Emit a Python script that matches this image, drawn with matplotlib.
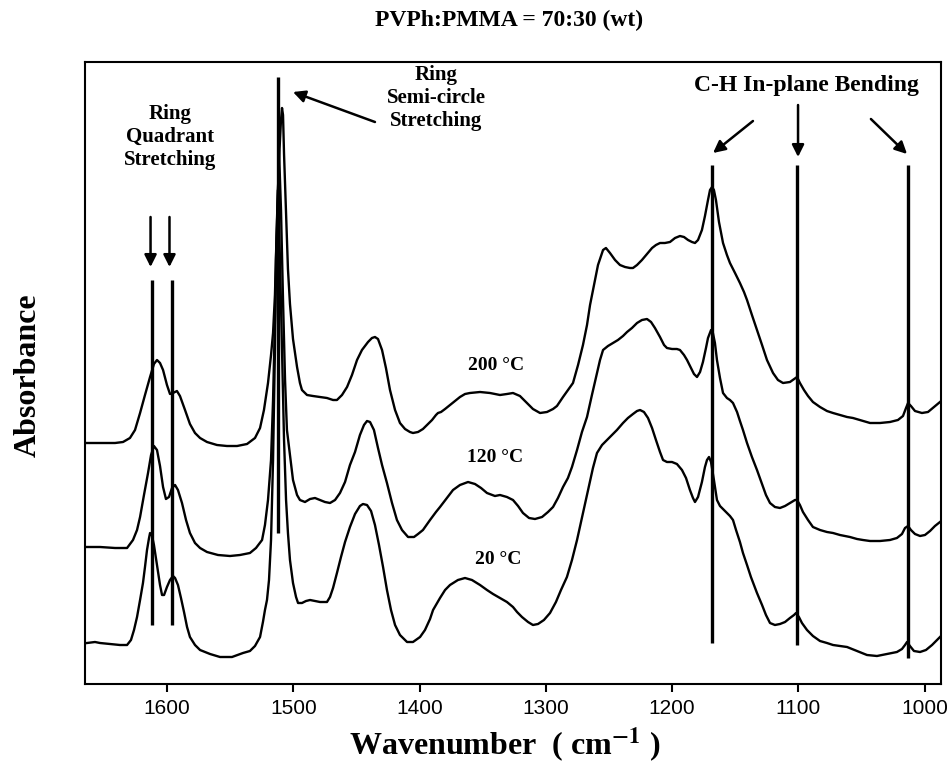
import matplotlib
matplotlib.use("Agg")
import matplotlib.pyplot as plt
import numpy as np

# ---------------- data (wavenumber in cm-1, absorbance in a.u., curves offset) -------------
wn_200 = [1663.3,1653.0,1641.1,1634.8,1629.3,1625.3,1621.3,1617.4,1613.4,1610.3,1607.9,1605.5,1603.1,1600.0,
          1597.6,1595.2,1592.1,1589.7,1585.7,1581.8,1577.8,1573.8,1568.3,1560.4,1552.5,1544.5,1536.6,1530.3,
          1526.3,1523.2,1520.0,1517.6,1516.0,1514.5,1512.9,1511.3,1509.7,1508.9,1508.1,1507.3,1505.7,1504.2,
          1502.6,1500.2,1497.0,1494.7,1493.1,1489.1,1484.4,1478.8,1473.3,1468.5,1465.4,1461.4,1457.4,1453.5,
          1449.5,1445.6,1440.8,1437.7,1435.3,1432.9,1429.7,1426.6,1423.4,1419.4,1415.5,1411.5,1407.6,1405.2,
          1401.2,1397.3,1394.1,1390.1,1387.0,1385.4,1383.0,1379.8,1375.9,1371.9,1368.0,1364.0,1360.1,1352.1,
          1344.2,1336.3,1330.8,1326.0,1320.5,1314.9,1310.2,1304.6,1299.1,1294.3,1291.2,1286.4,1282.5,1278.5,
          1274.5,1270.6,1267.4,1265.0,1261.1,1258.7,1254.7,1252.4,1249.2,1245.2,1241.3,1237.3,1233.4,1231.0,
          1227.8,1223.9,1219.9,1215.9,1212.8,1209.6,1205.7,1201.7,1197.7,1193.8,1190.6,1187.4,1184.3,1181.9,
          1179.5,1176.4,1174.0,1171.6,1170.0,1168.4,1166.9,1165.3,1162.9,1159.7,1156.6,1154.2,1150.2,1146.3,
          1143.1,1140.7,1136.8,1132.8,1128.8,1124.9,1120.1,1116.2,1112.2,1106.7,1101.1,1098.8,1095.6,1092.4,
          1088.5,1082.9,1077.4,1072.6,1067.1,1061.5,1056.8,1051.3,1043.3,1035.4,1027.5,1021.2,1017.2,1014.8,
          1013.2,1010.9,1007.7,1002.2,997.4,992.7,987.9]
abs_200 = [2.41,2.41,2.41,2.42,2.46,2.54,2.71,2.89,3.07,3.20,3.24,3.21,3.14,2.99,
           2.90,2.91,2.93,2.88,2.74,2.60,2.51,2.46,2.42,2.39,2.38,2.38,2.40,2.46,
           2.56,2.74,3.01,3.29,3.51,3.89,4.64,5.24,5.64,5.76,5.69,5.30,4.70,4.15,
           3.80,3.45,3.17,3.01,2.94,2.89,2.88,2.87,2.86,2.84,2.84,2.89,2.97,3.09,
           3.24,3.34,3.42,3.46,3.47,3.45,3.34,3.16,2.94,2.74,2.61,2.55,2.52,2.51,
           2.52,2.55,2.59,2.64,2.69,2.71,2.72,2.75,2.79,2.83,2.87,2.90,2.91,2.92,
           2.91,2.89,2.90,2.91,2.88,2.81,2.75,2.71,2.72,2.75,2.78,2.87,2.94,3.01,
           3.19,3.39,3.59,3.79,4.04,4.19,4.34,4.36,4.31,4.24,4.19,4.17,4.16,4.16,
           4.19,4.24,4.30,4.36,4.39,4.41,4.41,4.42,4.46,4.48,4.47,4.44,4.42,4.41,
           4.44,4.54,4.68,4.84,4.94,4.97,4.94,4.84,4.62,4.41,4.29,4.21,4.11,4.01,
           3.92,3.84,3.69,3.54,3.39,3.24,3.11,3.04,3.01,3.02,3.07,3.01,2.94,2.88,
           2.82,2.77,2.73,2.71,2.69,2.67,2.66,2.64,2.61,2.61,2.62,2.64,2.68,2.76,
           2.81,2.78,2.73,2.71,2.72,2.77,2.82]

wn_120 = [1663.3,1653.0,1641.1,1631.6,1626.9,1623.7,1621.3,1618.2,1615.0,1612.6,1610.3,1607.9,1605.5,1603.1,
          1600.8,1598.4,1596.0,1593.6,1591.3,1588.1,1584.9,1581.8,1577.8,1573.8,1568.3,1559.6,1550.1,1542.2,
          1534.3,1529.5,1524.7,1522.4,1520.0,1517.6,1516.0,1514.5,1512.9,1511.3,1509.7,1508.1,1506.5,1505.0,
          1502.6,1500.2,1497.0,1494.7,1490.7,1486.7,1482.8,1478.8,1474.9,1470.9,1466.9,1463.0,1459.0,1455.1,
          1451.1,1447.2,1444.0,1441.6,1439.2,1436.1,1432.9,1429.7,1425.8,1421.8,1417.9,1413.9,1409.1,1404.4,
          1401.2,1397.3,1391.7,1387.0,1383.8,1378.3,1373.5,1368.0,1361.6,1356.1,1351.3,1346.6,1340.3,1336.3,
          1330.8,1326.0,1322.0,1318.1,1313.3,1308.6,1303.0,1298.3,1294.3,1290.4,1286.4,1282.5,1279.3,1275.3,
          1271.4,1267.4,1263.5,1259.5,1257.1,1254.7,1250.8,1246.8,1242.9,1238.9,1235.7,1231.8,1227.8,1223.9,
          1219.9,1216.7,1213.6,1209.6,1206.4,1204.1,1200.1,1196.2,1193.8,1190.6,1188.2,1185.1,1182.7,1180.3,
          1177.9,1175.6,1173.2,1171.6,1169.2,1167.7,1166.1,1164.5,1162.1,1159.7,1156.6,1154.2,1151.8,1148.6,
          1146.3,1143.9,1140.7,1136.8,1132.8,1128.8,1125.7,1122.5,1118.6,1114.6,1110.6,1106.7,1102.7,1101.1,
          1098.8,1096.4,1092.4,1088.5,1082.9,1077.4,1072.6,1067.1,1059.2,1053.6,1048.9,1043.3,1035.4,1027.5,
          1022.0,1018.0,1015.6,1013.2,1010.9,1007.7,1003.7,999.8,995.8,991.9,987.9]
abs_120 = [1.37,1.37,1.36,1.36,1.44,1.54,1.67,1.89,2.11,2.29,2.38,2.34,2.18,1.97,
           1.85,1.87,1.96,1.99,1.94,1.81,1.64,1.51,1.41,1.36,1.32,1.29,1.28,1.29,
           1.31,1.36,1.44,1.59,1.84,2.24,2.84,3.64,4.54,5.34,4.74,3.84,3.04,2.54,
           2.29,2.04,1.89,1.84,1.82,1.85,1.86,1.84,1.82,1.81,1.84,1.91,2.02,2.19,
           2.32,2.49,2.59,2.63,2.62,2.54,2.36,2.19,2.01,1.81,1.64,1.54,1.47,1.47,
           1.50,1.54,1.64,1.72,1.77,1.86,1.94,1.99,2.02,2.00,1.96,1.91,1.88,1.89,
           1.87,1.84,1.78,1.71,1.66,1.65,1.67,1.72,1.77,1.86,1.97,2.06,2.17,2.34,
           2.52,2.67,2.89,3.11,3.24,3.34,3.38,3.41,3.44,3.48,3.52,3.56,3.61,3.64,
           3.65,3.62,3.56,3.47,3.39,3.36,3.35,3.35,3.34,3.29,3.24,3.16,3.10,3.07,
           3.12,3.22,3.36,3.46,3.54,3.51,3.41,3.24,3.06,2.91,2.86,2.84,2.81,2.72,
           2.63,2.54,2.41,2.27,2.14,2.00,1.89,1.81,1.77,1.76,1.78,1.81,1.84,1.84,
           1.79,1.72,1.64,1.57,1.54,1.52,1.51,1.49,1.47,1.45,1.44,1.43,1.43,1.44,
           1.46,1.50,1.56,1.58,1.54,1.50,1.48,1.49,1.53,1.58,1.62]

wn_20 = [1663.3,1657.0,1653.0,1645.1,1637.2,1631.6,1628.5,1626.1,1623.7,1621.3,1619.0,1617.4,1615.8,1614.2,
         1613.4,1611.8,1610.3,1607.9,1605.5,1603.9,1602.3,1600.0,1597.6,1595.2,1593.6,1591.3,1588.9,1586.5,
         1584.1,1581.8,1577.8,1573.8,1565.9,1558.0,1548.5,1539.8,1534.3,1530.3,1526.3,1524.0,1522.4,1520.8,
         1519.2,1517.6,1516.0,1514.5,1513.7,1512.1,1510.5,1508.9,1507.3,1505.7,1504.2,1502.6,1500.2,1497.8,
         1496.2,1493.1,1489.9,1486.7,1482.8,1478.8,1473.3,1470.9,1468.5,1465.4,1462.2,1459.0,1455.1,1451.1,
         1447.2,1444.8,1441.6,1438.4,1435.3,1432.1,1428.9,1425.8,1422.6,1419.4,1415.5,1409.9,1405.2,1399.6,
         1395.7,1391.7,1389.3,1383.8,1379.8,1375.9,1369.6,1364.0,1358.5,1352.1,1346.6,1341.8,1336.3,1330.8,
         1326.0,1322.8,1318.9,1314.1,1310.2,1306.2,1301.5,1296.7,1292.0,1288.0,1283.3,1279.3,1275.3,1270.6,
         1266.6,1262.7,1259.5,1255.5,1251.6,1247.6,1243.7,1238.9,1235.0,1231.0,1227.8,1225.4,1222.3,1219.1,
         1215.9,1212.8,1209.6,1207.2,1204.1,1200.1,1196.2,1192.2,1189.0,1185.9,1183.5,1181.9,1179.5,1176.4,
         1174.0,1172.4,1170.8,1169.2,1166.9,1164.5,1162.1,1158.9,1156.6,1154.2,1151.8,1149.4,1146.3,1143.9,
         1140.7,1137.6,1132.8,1128.8,1125.7,1122.5,1118.6,1114.6,1110.6,1106.7,1103.5,1101.9,1099.6,1097.2,
         1093.2,1088.5,1082.9,1077.4,1072.6,1067.1,1061.5,1053.6,1045.7,1037.8,1029.9,1022.0,1018.0,1015.6,
         1014.0,1011.7,1008.5,1003.7,999.0,994.2,987.9]
abs_20 = [0.41,0.42,0.41,0.40,0.39,0.39,0.44,0.54,0.67,0.84,1.01,1.17,1.34,1.46,
          1.51,1.48,1.39,1.19,0.99,0.89,0.89,0.97,1.04,1.08,1.06,0.99,0.86,0.72,
          0.57,0.47,0.39,0.34,0.30,0.27,0.27,0.31,0.33,0.38,0.47,0.62,0.74,0.84,
          1.04,1.44,2.24,3.34,4.24,4.94,4.24,3.34,2.44,1.84,1.51,1.24,1.01,0.87,
          0.81,0.81,0.83,0.84,0.83,0.82,0.82,0.87,0.96,1.11,1.27,1.42,1.57,1.70,
          1.78,1.80,1.79,1.73,1.59,1.39,1.17,0.94,0.74,0.59,0.49,0.42,0.42,0.47,
          0.54,0.65,0.74,0.86,0.94,0.99,1.04,1.06,1.04,0.99,0.94,0.90,0.86,0.82,
          0.77,0.72,0.67,0.62,0.59,0.60,0.64,0.71,0.82,0.94,1.07,1.24,1.44,1.71,
          1.94,2.16,2.31,2.39,2.44,2.49,2.54,2.61,2.66,2.70,2.73,2.74,2.72,2.66,
          2.56,2.44,2.32,2.24,2.22,2.22,2.20,2.14,2.06,1.94,1.86,1.82,1.87,2.02,
          2.17,2.24,2.27,2.22,2.04,1.84,1.78,1.74,1.71,1.68,1.64,1.54,1.42,1.31,
          1.19,1.07,0.91,0.79,0.69,0.61,0.59,0.60,0.62,0.66,0.69,0.71,0.67,0.61,
          0.54,0.48,0.43,0.41,0.39,0.38,0.37,0.33,0.29,0.28,0.30,0.32,0.35,0.39,
          0.42,0.38,0.33,0.32,0.34,0.39,0.47]

# band marker lines: position, top, bottom (absorbance units)
marker_pos = [1612.0, 1596.0, 1512.1, 1168.4, 1101.1, 1013.2]
marker_top = [4.04, 4.04, 6.07, 5.19, 5.19, 5.19]
marker_bot = [0.59, 0.59, 1.51, 0.41, 0.39, 0.26]

temp_labels = ["200 \u00b0C", "120 \u00b0C", "20 \u00b0C"]
temp_label_pos = [(1339.5, 3.19), (1340.3, 2.26), (1337.9, 1.24)]

xticks = [1600, 1500, 1400, 1300, 1200, 1100, 1000]

# ---------------- figure -------------------------------------------------------------
W, H = 952, 776
fig = plt.figure(figsize=(W / 100, H / 100), dpi=100)
ax = fig.add_axes([85 / W, (H - 684) / H, (941 - 85) / W, (684 - 62) / H])

serif = "Liberation Serif"
for x, y in ((wn_200, abs_200), (wn_120, abs_120), (wn_20, abs_20)):
    ax.plot(x, y, color="black", lw=1.7, solid_joinstyle="round")

ax.vlines(marker_pos, marker_bot, marker_top, color="black", lw=2.4)

ax.set_xlim(1664.9, 987.1)
ax.set_ylim(0, 6.22)
ax.set_yticks([])
ax.set_xticks(xticks)
ax.set_xticklabels([str(t) for t in xticks], fontfamily="Liberation Sans", fontsize=15)
ax.tick_params(axis="x", direction="out", length=6, width=1.5, pad=5)
for s in ax.spines.values():
    s.set_linewidth(1.5)

for lab, (x, y) in zip(temp_labels, temp_label_pos):
    ax.text(x, y, lab, ha="center", va="center", fontfamily=serif, fontweight="bold", fontsize=14)

ax.text(1597.6, 5.47, "Ring\nQuadrant\nStretching", ha="center", va="center",
        fontfamily=serif, fontweight="bold", fontsize=15, linespacing=1.2)
ax.text(1387.0, 5.86, "Ring\nSemi-circle\nStretching", ha="center", va="center",
        fontfamily=serif, fontweight="bold", fontsize=15, linespacing=1.2)
ax.text(1094.0, 5.99, "C-H In-plane Bending", ha="center", va="center",
        fontfamily=serif, fontweight="bold", fontsize=17)

arrow_kw = dict(arrowstyle="-|>", color="black", lw=1.8, mutation_scale=18,
                shrinkA=0, shrinkB=0)
arrows = [((1613.0, 4.67), (1613.0, 4.17)),
          ((1598.0, 4.67), (1598.0, 4.17)),
          ((1435.3, 5.62), (1500.2, 5.92)),
          ((1136.0, 5.63), (1167.6, 5.31)),
          ((1100.3, 5.79), (1100.3, 5.27)),
          ((1042.6, 5.65), (1014.0, 5.30))]
for tail, head in arrows:
    ax.annotate("", xy=head, xytext=tail, arrowprops=arrow_kw)

fig.text(509 / W, 1 - 20 / H, "PVPh:PMMA = 70:30 (wt)", ha="center", va="center",
         fontfamily=serif, fontweight="bold", fontsize=17)
fig.text(28 / W, 1 - 375 / H, "Absorbance", ha="center", va="center", rotation=90,
         fontfamily=serif, fontweight="bold", fontsize=23)
plt.rcParams["mathtext.fontset"] = "stix"
fig.text(505 / W, 1 - 745 / H, r"Wavenumber  ( cm$^{\mathbf{-1}}$ )", ha="center", va="center",
         fontfamily=serif, fontweight="bold", fontsize=23)

fig.savefig("out.png", dpi=100)
